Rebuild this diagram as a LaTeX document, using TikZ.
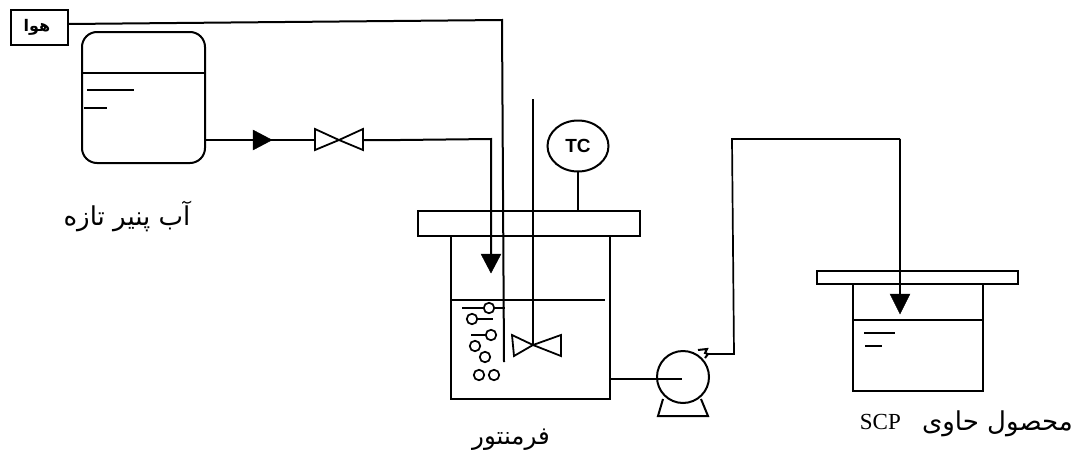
\documentclass[tikz,border=0pt]{standalone}
\usepackage{fontspec}
\setsansfont{Liberation Sans}
\newfontfamily\arabicfont[Script=Arabic]{DejaVu Sans}
\setmainfont{Liberation Serif}
\TeXXeTstate=1
\usetikzlibrary{shapes.geometric}
\tikzset{
  px/.style={x=1pt,y=-1pt},
  ln/.style={line width=2pt,black,line join=miter},
  thin ln/.style={line width=1.6pt,black},
  boxn/.style={draw,line width=2pt,inner sep=0pt,outer sep=0pt,rectangle},
  bubble/.style={draw,line width=1.7pt,circle,inner sep=0pt,outer sep=0pt,minimum size=10.5pt,fill=white},
  head/.style={fill=black,draw=black,line width=0.4pt,line join=miter},
  valveshape/.style={draw=black,line width=1.8pt,line join=miter,fill=white},
  label/.style={inner sep=0pt,font=\arabicfont\fontsize{26}{28}\selectfont}
}
\begin{document}
\begin{tikzpicture}[px]
\useasboundingbox (0,0) rectangle (1077,461);
\fill[white] (0,0) rectangle (1077,461);

% air
\node[boxn,minimum width=57pt,minimum height=35pt] (air) at (39.5,27.5) {};
\node[inner sep=0pt,font=\arabicfont\bfseries\fontsize{16}{17}\selectfont] (airt) at (37,27) {\beginR هوا\endR};

% feed tank
\node[boxn,rounded corners=15pt,minimum width=123pt,minimum height=131pt] (feed) at (143.5,97.5) {};
\coordinate (fl) at (feed.west |- 0,73);
\coordinate (fr) at (feed.east |- 0,73);
\draw[ln] (fl) -- (fr);
\coordinate (fd1a) at (87,90); \coordinate (fd1b) at (134,90);
\coordinate (fd2a) at (84,108); \coordinate (fd2b) at (107,108);
\draw[thin ln] (fd1a) -- (fd1b);
\draw[thin ln] (fd2a) -- (fd2b);

% feed line
\coordinate (fo) at (205,140);
\coordinate (vl) at (315,140);
\coordinate (vr) at (363,140);
\coordinate (fturn) at (491,139);
\coordinate (fend) at (491,256);
\draw[ln] (fo) -- (vl);
\draw[head] (253,130) -- (272,140) -- (253,150) -- cycle;
\draw[valveshape] (339,140) -- (315,129) -- (315,150) -- cycle;
\draw[valveshape] (339,140) -- (363,129) -- (363,150) -- cycle;

% fermenter
\node[boxn,minimum width=159pt,minimum height=163pt] (ferm) at (530.5,317.5) {};
\node[boxn,minimum width=222pt,minimum height=25pt] (lid) at (529,223.5) {};
\draw[ln] (ferm.west |- 0,300) -- (605,300);

% feed and air lines
\coordinate (aturn) at (502,20);
\coordinate (aend) at (504,362);
\draw[ln] (vr) -- (400,140) -- (fturn) -- (fend);
\draw[head] (481,254) -- (501,254) -- (491,273) -- cycle;
\draw[ln] (air.east |- 0,24) -- (aturn) -- (aend);

% stirrer
\coordinate (st) at (533,99);
\coordinate (sc) at (533,345);
\draw[ln] (st) -- (sc);
\draw[valveshape,fill=none] (sc) -- (512,335) -- (514,356) -- cycle;
\draw[valveshape,fill=none] (sc) -- (561,335) -- (561,356) -- cycle;

% TC
\node[draw,line width=2pt,ellipse,minimum width=61pt,minimum height=51pt,inner sep=0pt,outer sep=0pt,font=\sffamily\bfseries\fontsize{19}{20}\selectfont] (tc) at (578,146) {TC};
\draw[ln] (tc.south) -- (lid.north -| tc.south);

% bubbles
\draw[thin ln] (462,308) -- (505,308);
\draw[thin ln] (468,319) -- (493,319);
\draw[thin ln] (471,335) -- (490,335);
\node[bubble] (b1) at (489,308) {};
\node[bubble] (b2) at (472,319) {};
\node[bubble] (b3) at (491,335) {};
\node[bubble] (b4) at (475,346) {};
\node[bubble] (b5) at (485,357) {};
\node[bubble] (b6) at (479,375) {};
\node[bubble] (b7) at (494,375) {};

% pump
\node[draw,line width=2pt,circle,minimum size=52pt,inner sep=0pt,outer sep=0pt] (pump) at (683,377) {};
\coordinate (pc) at (682,379);
\draw[ln] (ferm.east |- pc) -- (pc);
\draw[ln] (663,399) -- (658,416) -- (708,416) -- (701,399);
\draw[ln] (698,350) -- (707,349) -- (705,353) -- (708,354) -- (705,358);

% discharge
\coordinate (d0) at (707,354);
\coordinate (d1) at (734,354);
\coordinate (d2) at (732,139);
\coordinate (d3) at (900,139);
\coordinate (d4) at (900,296);
\draw[line width=1.7pt,line join=miter] (d0) -- (d1) -- (d2) -- (d3);

% product tank
\node[boxn,minimum width=130pt,minimum height=107pt] (prod) at (918,337.5) {};
\node[boxn,fill=white,minimum width=201pt,minimum height=13pt] (plid) at (917.5,277.5) {};
\draw[ln] (prod.west |- 0,320) -- (prod.east |- 0,320);
\draw[ln] (d3) -- (d4);
\draw[head] (890,294) -- (910,294) -- (900,314) -- cycle;
\draw[thin ln] (864,333) -- (895,333);
\draw[thin ln] (865,346) -- (882,346);

% labels
\node[label] (t1) at (127,216) {\beginR آب پنیر تازه\endR};
\node[label,font=\arabicfont\fontsize{24.5}{26}\selectfont] (t2) at (511,440) {\beginR فرمنتور\endR};
\node[label,anchor=east] (t3) at (1073,424) {\beginR محصول حاوی\endR};
\node[inner sep=0pt,font=\rmfamily\fontsize{23}{24}\selectfont,anchor=base east] (t4) at (901,429) {SCP};
\end{tikzpicture}
\end{document}
